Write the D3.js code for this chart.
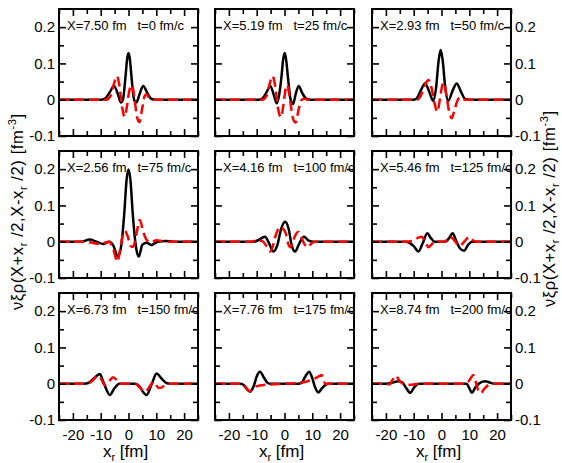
<!DOCTYPE html>
<html><head><meta charset="utf-8">
<script src="https://cdn.jsdelivr.net/npm/d3@7/dist/d3.min.js"></script>
<style>body{margin:0;background:#fff} svg{display:block}</style>
</head><body><svg id="c" width="562" height="463"></svg>
<script>
const posX = ["7.50","5.19","2.93","2.56","4.16","5.46","6.73","7.76","8.74"];
const times = ["0","25","50","75","100","125","150","175","200"];

const realParts = [
  [[-25,0],[-10,0],[-8.5,0.003],[-6.8,0.02],[-5.2,0.038],[-3.8,0.015],[-2.7,-0.008],[-2,0.0],[-1,0.07],[-0.5,0.112],[0,0.129],[0.5,0.112],[1,0.07],[2,0.0],[2.8,-0.008],[4,0.016],[5.3,0.038],[6.8,0.018],[8.3,0.002],[10,0],[25,0]],
  [[-25,0],[-9.5,0],[-8,0.003],[-6.5,0.02],[-5.1,0.038],[-3.8,0.012],[-2.8,-0.01],[-2,0.01],[-1,0.07],[-0.5,0.11],[0.1,0.129],[0.6,0.11],[1.2,0.065],[2.2,0.0],[3.1,-0.012],[4,0.015],[5.1,0.038],[6.4,0.018],[8,0.002],[9.5,0],[25,0]],
  [[-25,0],[-10,0],[-9,0.003],[-7.5,0.025],[-5.9,0.045],[-4.4,0.022],[-3,-0.003],[-2,0.03],[-1,0.11],[-0.3,0.137],[0.4,0.11],[1.4,0.03],[2.4,-0.003],[4,0.025],[5.5,0.045],[7,0.022],[8.5,0.002],[10,0],[25,0]],
  [[-25,0],[-17,0],[-14,0.006],[-11.5,0.0],[-9,-0.006],[-7,0.0],[-5.5,-0.01],[-3.8,-0.041],[-2.6,-0.01],[-1.5,0.08],[-0.7,0.17],[0,0.199],[0.7,0.17],[1.5,0.08],[2.6,-0.01],[3.7,-0.041],[5,-0.008],[6.5,-0.003],[8.3,-0.009],[10.5,0],[13.5,0.002],[16,0],[25,0]],
  [[-25,0],[-13,0],[-11,0.0],[-9.5,0.004],[-7,0.014],[-5.5,-0.005],[-4,-0.027],[-2.6,-0.01],[-1.2,0.035],[0.2,0.055],[1.5,0.035],[2.6,-0.01],[3.8,-0.027],[5.3,-0.005],[7,0.014],[8.7,0.003],[10.5,0],[25,0]],
  [[-25,0],[-13,0],[-11.5,-0.003],[-10,-0.012],[-8.3,-0.027],[-6.8,-0.005],[-5.1,0.023],[-3.8,0.01],[-2.5,0.0],[1.5,0.0],[2.7,0.01],[4.0,0.023],[5.4,0.0],[6.6,-0.018],[8.1,-0.025],[9.6,-0.008],[11,0],[25,0]],
  [[-25,0],[-16,0],[-14.5,0.002],[-12,0.018],[-10.3,0.027],[-8.8,0.0],[-6.7,-0.031],[-5,-0.012],[-3.3,0],[2.3,0],[4,-0.008],[5,-0.02],[6.5,-0.031],[8.4,0.0],[10.1,0.028],[11.8,0.015],[13.6,0.002],[15,0],[25,0]],
  [[-25,0],[-16,0],[-14.8,-0.003],[-13.5,-0.015],[-12.4,-0.022],[-11,-0.005],[-10,0.02],[-8.8,0.033],[-7.5,0.018],[-6,0.002],[-5,0],[5,0],[6.2,0.003],[7.5,0.02],[8.9,0.033],[10,0.015],[11,-0.01],[12.2,-0.024],[13.5,-0.012],[15,-0.002],[16,0],[25,0]],
  [[-25,0],[-20,0],[-18,0.002],[-15.5,0.007],[-14,0.003],[-12.7,-0.012],[-11.3,-0.025],[-9.8,-0.01],[-8.2,0],[9,0],[10,-0.012],[10.9,-0.025],[12.2,-0.01],[13.4,0.0],[15.6,0.007],[17.5,0.003],[19,0],[25,0]]
];

const imagParts = [
  [[-25,0],[-8,0],[-6.5,0.01],[-5.2,0.045],[-4.2,0.065],[-3.3,0.04],[-2.3,-0.02],[-1.4,-0.047],[-0.6,-0.02],[0.3,0.025],[1.3,0.04],[2.2,0.0],[3.0,-0.045],[3.9,-0.062],[4.8,-0.03],[5.8,0.01],[6.5,0.015],[7.5,0.004],[9,0],[25,0]],
  [[-25,0],[-8,0],[-6.5,0.01],[-5.3,0.045],[-4.3,0.065],[-3.3,0.035],[-2.3,-0.025],[-1.3,-0.048],[-0.4,-0.015],[0.3,0.025],[1.0,0.04],[1.9,0.005],[3.0,-0.05],[4.0,-0.063],[5.0,-0.03],[6.0,-0.002],[7,0.003],[8.5,0],[25,0]],
  [[-25,0],[-9,0],[-7.5,0.01],[-6,0.04],[-4.7,0.054],[-3.5,0.03],[-2.5,-0.01],[-1.5,-0.033],[-0.6,0.0],[0.3,0.04],[0.9,0.047],[1.8,0.01],[2.8,-0.035],[3.7,-0.051],[4.6,-0.03],[5.6,-0.005],[6.5,0.006],[8,0],[25,0]],
  [[-25,0],[-16,0],[-13,-0.003],[-11,-0.006],[-9,-0.004],[-7,0],[-5.5,-0.02],[-4,-0.055],[-3,-0.02],[-2,0.02],[-1.3,0.03],[-0.3,0.015],[0.8,-0.012],[1.7,-0.014],[2.8,0.02],[4.1,0.06],[5.2,0.03],[6.5,0.005],[8,-0.002],[10,0.004],[12,0.002],[14,0],[25,0]],
  [[-25,0],[-12,0],[-10,0.004],[-8,0.002],[-6.5,-0.012],[-5.2,-0.027],[-4.2,-0.012],[-3.4,0.012],[-2.4,0.033],[-1.6,0.041],[-0.6,0.036],[0.5,0.022],[1.3,-0.005],[2.1,-0.015],[3.2,0.005],[4.2,0.022],[5,0.027],[6,0.012],[7.3,-0.008],[8.5,-0.015],[9.5,-0.006],[11,0],[25,0]],
  [[-25,0],[-13,0],[-10,0.003],[-8.2,0.012],[-7.2,0.014],[-6,0.002],[-4.7,-0.015],[-3.6,-0.008],[-2.5,0],[1.3,0],[2.7,0.013],[3.8,0.01],[5,0.0],[6.3,-0.012],[7.5,-0.006],[8.8,0.006],[10.2,0.013],[11.3,0.004],[12.5,0],[25,0]],
  [[-25,0],[-15,0],[-13,0.008],[-11,0.022],[-9.8,0.012],[-8.5,-0.004],[-7.2,0.005],[-5.5,0.018],[-4.5,0.012],[-3,0],[2.5,0],[4,-0.01],[5.8,-0.022],[7,-0.015],[8.3,0.0],[9.3,0.004],[10.8,-0.012],[12,-0.01],[13.5,-0.002],[15,0],[25,0]],
  [[-25,0],[-16,0],[-14.5,-0.004],[-13,-0.018],[-12.2,-0.02],[-11,-0.01],[-9.5,-0.006],[-8,-0.004],[-5,-0.002],[0,0],[5,0.002],[8,0.006],[10.5,0.013],[12.3,0.02],[13.4,0.024],[14,0.012],[14.6,0.0],[16,0],[25,0]],
  [[-25,0],[-20,0],[-18.8,-0.002],[-17.5,0.012],[-16.4,0.022],[-15.3,0.01],[-14,0.0],[-12.5,-0.003],[-10,-0.002],[-8,0],[8,0],[9.6,0.005],[10.5,0.015],[11.4,0.024],[12.3,0.005],[13.2,-0.018],[14.1,-0.026],[15.3,-0.015],[16.8,-0.004],[18.5,0],[25,0]]
];

const xMajorTicks = [-20,-10,0,10,20];
const xTickLabels = ["-20","-10","0","10","20"];
const xMinorTicks = [-25,-15,-5,5,15,25];
const yMajorTicks = [-0.1,0,0.1,0.2];
const yTickLabels = ["-0.1","0","0.1","0.2"];
const yMinorTicks = [-0.05,0.05,0.15];

const svg = d3.select("#c");
const colLefts = [59,215,372], rowTops = [9,151,293];
const pw = 139, ph = 127;
const tickFont = "Liberation Sans, Arial, sans-serif";
const narrowFont = "'Liberation Sans Narrow', 'Arial Narrow', 'Liberation Sans', sans-serif";

for (let i = 0; i < 9; i++) {
  const r = Math.floor(i/3), c = i % 3;
  const L = colLefts[c], T = rowTops[r];
  const x = d3.scaleLinear().domain([-25,25]).range([L, L+pw]);
  const y = d3.scaleLinear().domain([-0.1,0.25]).range([T+ph, T]);
  const g = svg.append("g");

  const clipId = "clip"+i;
  g.append("clipPath").attr("id", clipId).append("rect")
    .attr("x", L).attr("y", T).attr("width", pw).attr("height", ph);

  const line = d3.line().x(d => x(d[0])).y(d => y(d[1])).curve(d3.curveMonotoneX);
  const cg = g.append("g").attr("clip-path", `url(#${clipId})`);
  cg.append("path").attr("d", line(realParts[i])).attr("fill","none")
    .attr("stroke","#000").attr("stroke-width",2.5).attr("stroke-linejoin","round");
  cg.append("path").attr("d", line(imagParts[i])).attr("fill","none")
    .attr("stroke","#ff0000").attr("stroke-width",2.5).attr("stroke-dasharray","10,5");

  function styleAxis(sel) {
    sel.select(".domain").remove();
    sel.selectAll(".tick line").attr("stroke","#000").attr("stroke-width",1.6);
    sel.selectAll("text").attr("font-family", tickFont).attr("font-size", 15).attr("fill","#000");
  }
  const yl = g.append("g").attr("transform",`translate(${L},0)`)
    .call(d3.axisLeft(y).tickValues(yMajorTicks).tickSize(-7).tickPadding(4)
      .tickFormat((d,k) => c === 0 ? yTickLabels[k] : ""));
  styleAxis(yl);
  const ylm = g.append("g").attr("transform",`translate(${L},0)`)
    .call(d3.axisLeft(y).tickValues(yMinorTicks).tickSize(-5).tickFormat(""));
  styleAxis(ylm);
  const yr = g.append("g").attr("transform",`translate(${L+pw},0)`)
    .call(d3.axisRight(y).tickValues(yMajorTicks).tickSize(-7).tickPadding(4)
      .tickFormat((d,k) => c === 2 ? yTickLabels[k] : ""));
  styleAxis(yr);
  const yrm = g.append("g").attr("transform",`translate(${L+pw},0)`)
    .call(d3.axisRight(y).tickValues(yMinorTicks).tickSize(-5).tickFormat(""));
  styleAxis(yrm);
  const xt = g.append("g").attr("transform",`translate(0,${T})`)
    .call(d3.axisTop(x).tickValues(xMajorTicks).tickSize(-7).tickFormat(""));
  styleAxis(xt);
  const xtm = g.append("g").attr("transform",`translate(0,${T})`)
    .call(d3.axisTop(x).tickValues(xMinorTicks).tickSize(-5).tickFormat(""));
  styleAxis(xtm);
  const xb = g.append("g").attr("transform",`translate(0,${T+ph})`)
    .call(d3.axisBottom(x).tickValues(xMajorTicks).tickSize(-7).tickPadding(9)
      .tickFormat((d,k) => r === 2 ? xTickLabels[k] : ""));
  styleAxis(xb);
  const xbm = g.append("g").attr("transform",`translate(0,${T+ph})`)
    .call(d3.axisBottom(x).tickValues(xMinorTicks).tickSize(-5).tickFormat(""));
  styleAxis(xbm);

  g.append("rect").attr("x",L).attr("y",T).attr("width",pw).attr("height",ph)
    .attr("fill","none").attr("stroke","#000").attr("stroke-width",2);

  const ann = g.append("text").attr("x", L+8).attr("y", T+21)
    .attr("font-family", narrowFont).attr("font-size", 13).attr("fill","#000")
    .attr("xml:space","preserve").style("white-space","pre");
  ann.text(`X=${posX[i]} fm   t=${times[i]} fm/c`);

  if (r === 2) {
    const xt2 = g.append("text").attr("x", L+pw/2 - 3).attr("y", 457)
      .attr("text-anchor","middle").attr("font-family", tickFont).attr("font-size",17);
    xt2.append("tspan").text("x");
    xt2.append("tspan").attr("font-size",11).attr("dy",4).text("r");
    xt2.append("tspan").attr("dy",-4).text(" [fm]");
  }
}

function yLabel(xpos, ypos) {
  const t = svg.append("text").attr("transform",`translate(${xpos},${ypos}) rotate(-90)`)
    .attr("text-anchor","middle").attr("font-family", tickFont).attr("font-size",16.5)
    .attr("xml:space","preserve").style("white-space","pre")
    .attr("textLength", 196).attr("lengthAdjust","spacing");
  t.append("tspan").text("νξρ(X+x");
  t.append("tspan").attr("font-size",11).attr("dy",4).text("r");
  t.append("tspan").attr("dy",-4).text(" /2,X-x");
  t.append("tspan").attr("font-size",11).attr("dy",4).text("r");
  t.append("tspan").attr("dy",-4).text(" /2) [fm");
  t.append("tspan").attr("font-size",11).attr("dy",-7).text("-3");
  t.append("tspan").attr("dy",7).text("]");
}
yLabel(23, 212);
yLabel(555, 209);
</script>
</body></html>
